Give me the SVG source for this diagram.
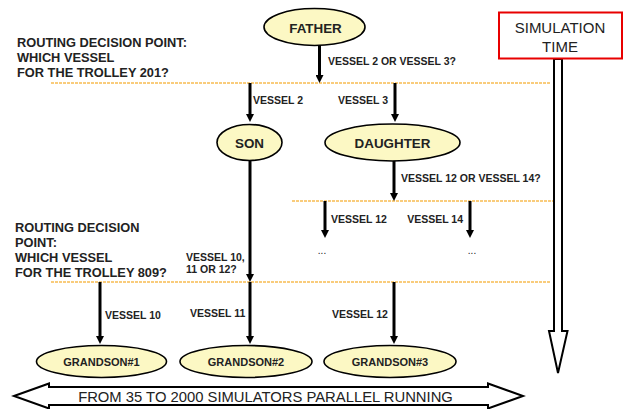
<svg xmlns="http://www.w3.org/2000/svg" width="624" height="409" viewBox="0 0 624 409">
<style>
.node ellipse{fill:#fcf8c4;stroke:#000;stroke-width:1.6}
.nt{font-family:"Liberation Sans",Arial,sans-serif;font-weight:bold;fill:#222;text-anchor:middle}
.lbl{font-family:"Liberation Sans",Arial,sans-serif;font-weight:bold;font-size:10.5px;fill:#222}
.big{font-family:"Liberation Sans",Arial,sans-serif;font-weight:bold;font-size:12.8px;fill:#222}
.norm{font-family:"Liberation Sans",Arial,sans-serif;fill:#222}
.dash{stroke:#f7bc52;stroke-width:1.6;stroke-dasharray:3 1;fill:none}
.arr{stroke:#000;stroke-width:3;fill:none;marker-end:url(#ah)}
.outline{fill:#fff;stroke:#000;stroke-width:2;stroke-linejoin:miter}
</style>
<defs>
<marker id="ah" viewBox="0 0 8 8" refX="3" refY="4" markerWidth="8" markerHeight="8" markerUnits="userSpaceOnUse" orient="auto">
<path d="M0,0 L8,4 L0,8 z" fill="#000"/>
</marker>
</defs>
<rect width="624" height="409" fill="#fff"/>

<g id="decision-lines">
<line class="dash" x1="51" y1="83" x2="550" y2="83"/>
<line class="dash" x1="292" y1="201" x2="553" y2="201"/>
<line class="dash" x1="51" y1="282" x2="550" y2="282"/>
</g>

<g id="connectors">
<line class="arr" x1="319.5" y1="45" x2="319.5" y2="78"/>
<line class="arr" x1="250" y1="83" x2="250" y2="117"/>
<line class="arr" x1="395" y1="83" x2="395" y2="117"/>
<line class="arr" x1="250" y1="160" x2="250" y2="277"/>
<line class="arr" x1="394" y1="160" x2="394" y2="196"/>
<line class="arr" x1="325" y1="201" x2="325" y2="233"/>
<line class="arr" x1="470" y1="201" x2="470" y2="233"/>
<line class="arr" x1="100" y1="282" x2="100" y2="339"/>
<line class="arr" x1="250" y1="282" x2="250" y2="339"/>
<line class="arr" x1="394" y1="282" x2="394" y2="339"/>
</g>

<g id="father" class="node">
<ellipse cx="314.5" cy="27" rx="50.5" ry="18.5"/>
<text class="nt" x="315.5" y="33" font-size="13.4">FATHER</text>
</g>
<g id="son" class="node">
<ellipse cx="249.5" cy="142.5" rx="32.5" ry="18"/>
<text class="nt" x="249.5" y="148" font-size="13.4">SON</text>
</g>
<g id="daughter" class="node">
<ellipse cx="392.5" cy="142.5" rx="67.5" ry="18.5"/>
<text class="nt" x="392.5" y="148" font-size="13.4">DAUGHTER</text>
</g>
<g id="grandson1" class="node">
<ellipse cx="101.5" cy="361.5" rx="65" ry="16"/>
<text class="nt" x="101.5" y="366" font-size="11">GRANDSON#1</text>
</g>
<g id="grandson2" class="node">
<ellipse cx="246" cy="361.5" rx="66" ry="16"/>
<text class="nt" x="246" y="366" font-size="11">GRANDSON#2</text>
</g>
<g id="grandson3" class="node">
<ellipse cx="390" cy="361.5" rx="66" ry="16"/>
<text class="nt" x="390" y="366" font-size="11">GRANDSON#3</text>
</g>

<g id="labels">
<text class="big" x="17" y="47">ROUTING DECISION POINT:</text>
<text class="big" x="17" y="62">WHICH VESSEL</text>
<text class="big" x="17" y="77">FOR THE TROLLEY 201?</text>
<text class="big" x="15" y="232">ROUTING DECISION</text>
<text class="big" x="15" y="247">POINT:</text>
<text class="big" x="15" y="262">WHICH VESSEL</text>
<text class="big" x="15" y="277">FOR THE TROLLEY 809?</text>
<text class="lbl" x="328" y="65">VESSEL 2 OR VESSEL 3?</text>
<text class="lbl" x="253" y="104">VESSEL 2</text>
<text class="lbl" x="388" y="104" text-anchor="end">VESSEL 3</text>
<text class="lbl" x="401" y="182">VESSEL 12 OR VESSEL 14?</text>
<text class="lbl" x="331" y="223">VESSEL 12</text>
<text class="lbl" x="463" y="223" text-anchor="end">VESSEL 14</text>
<text class="norm" x="322" y="254" font-size="10" text-anchor="middle">...</text>
<text class="norm" x="472" y="254" font-size="10" text-anchor="middle">...</text>
<text class="lbl" x="186" y="261" font-size="11">VESSEL 10,</text>
<text class="lbl" x="186" y="273" font-size="11">11 OR 12?</text>
<text class="lbl" x="105" y="319">VESSEL 10</text>
<text class="lbl" x="190" y="317">VESSEL 11</text>
<text class="lbl" x="332" y="318">VESSEL 12</text>
</g>

<g id="simulation-time">
<polygon class="outline" points="554,59 562,59 562,331 567.5,331 558,373 549,331 554,331"/>
<rect x="499" y="12.5" width="123" height="46" fill="#fff" stroke="#e80000" stroke-width="2"/>
<text class="norm" x="560" y="33" font-size="15" text-anchor="middle">SIMULATION</text>
<text class="norm" x="560" y="52" font-size="15" text-anchor="middle">TIME</text>
</g>

<g id="parallel-arrow">
<polygon class="outline" points="14,396 49,383.5 49,387 488,387 488,383.5 523,396 488,408.5 488,405 49,405 49,408.5"/>
<text class="norm" x="265.5" y="402" font-size="14.8" text-anchor="middle">FROM 35 TO 2000 SIMULATORS PARALLEL RUNNING</text>
</g>
</svg>
